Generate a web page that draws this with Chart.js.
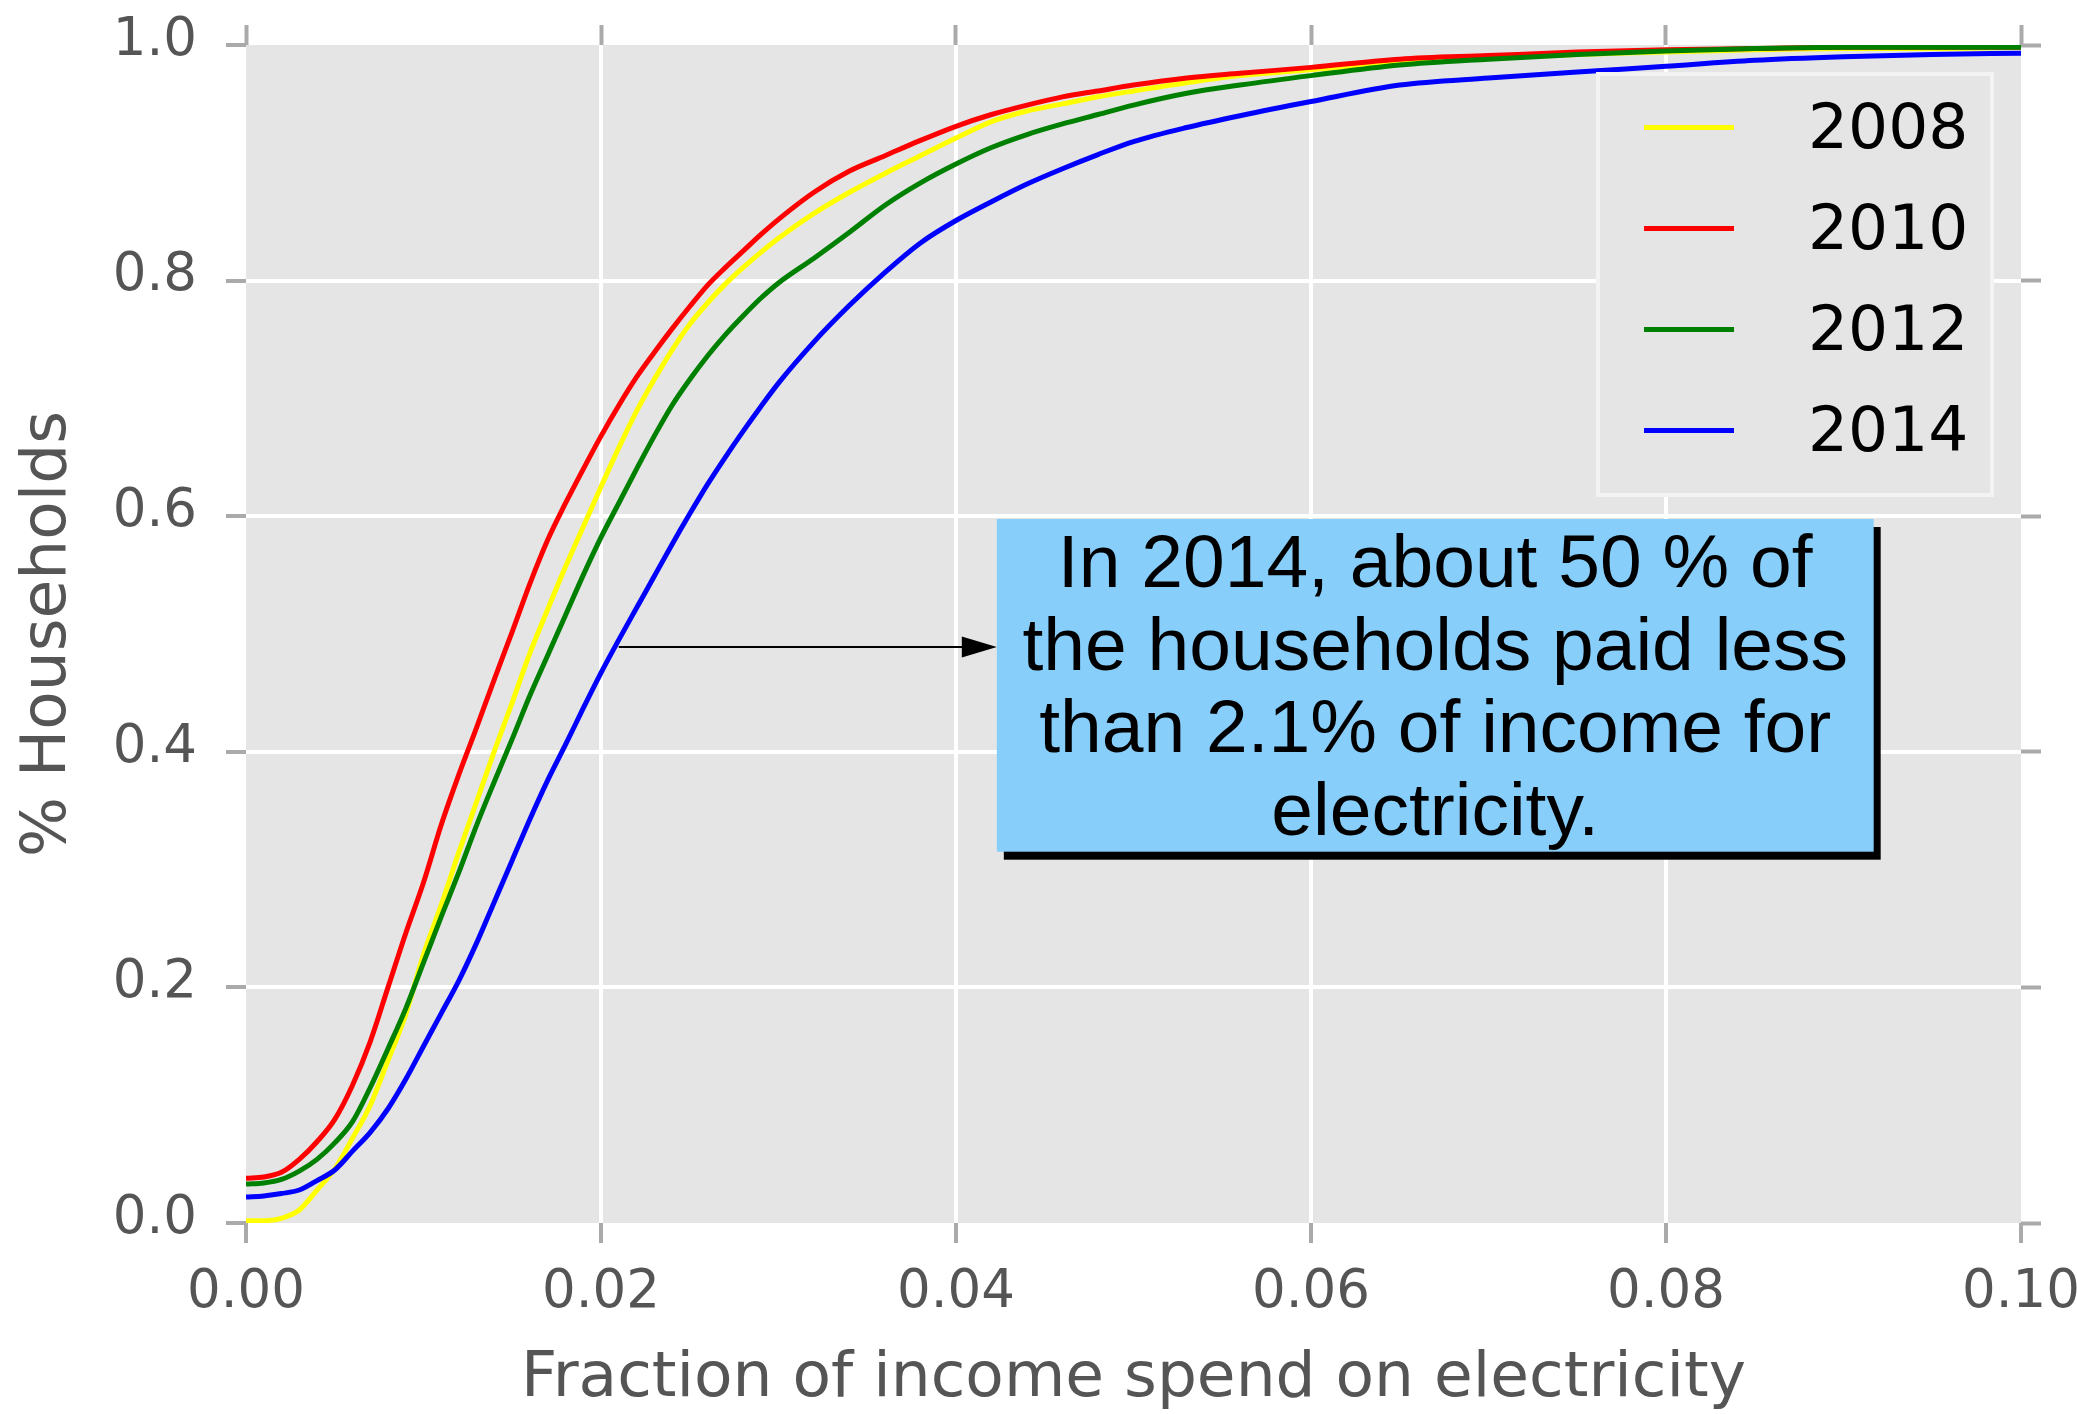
<!DOCTYPE html>
<html>
<head>
<meta charset="utf-8">
<title>Electricity cost share</title>
<script src="https://cdn.jsdelivr.net/npm/chart.js@4.4.0/dist/chart.umd.min.js"></script>
<style>
    html, body { margin: 0; padding: 0; background: #ffffff; }
    #wrap { width: 2077px; height: 1414px; }
</style>
</head>
<body>
<div id="wrap"><canvas id="shareChart" width="2077" height="1414"></canvas></div>
<script>
// fraction of income (x) and cumulative share of households for each survey year
const fractions = [0, 0.001, 0.002, 0.003, 0.004, 0.005, 0.006, 0.007, 0.008, 0.009,
    0.010, 0.011, 0.012, 0.013, 0.014, 0.015, 0.016, 0.017, 0.018, 0.019,
    0.020, 0.021, 0.022, 0.023, 0.024, 0.025, 0.026, 0.027, 0.028, 0.029,
    0.030, 0.032, 0.034, 0.036, 0.038, 0.040, 0.042, 0.044, 0.046, 0.048,
    0.050, 0.053, 0.056, 0.060, 0.065, 0.070, 0.075, 0.080, 0.085, 0.090, 0.095, 0.100];

const share2008 = [0.002, 0.002, 0.004, 0.011, 0.028, 0.046, 0.072, 0.100, 0.138, 0.177,
    0.228, 0.270, 0.315, 0.358, 0.401, 0.442, 0.484, 0.521, 0.557, 0.591,
    0.625, 0.658, 0.689, 0.716, 0.741, 0.763, 0.781, 0.797, 0.811, 0.824,
    0.836, 0.857, 0.875, 0.891, 0.906, 0.921, 0.935, 0.944, 0.950, 0.956,
    0.961, 0.968, 0.974, 0.979, 0.985, 0.989, 0.992, 0.994, 0.996, 0.997, 0.997, 0.998];

const share2010 = [0.038, 0.039, 0.043, 0.054, 0.069, 0.088, 0.117, 0.154, 0.200, 0.246,
    0.289, 0.338, 0.381, 0.421, 0.462, 0.502, 0.543, 0.580, 0.611, 0.640,
    0.668, 0.694, 0.718, 0.739, 0.759, 0.778, 0.796, 0.811, 0.825, 0.839,
    0.852, 0.875, 0.893, 0.906, 0.919, 0.931, 0.941, 0.949, 0.956, 0.961,
    0.966, 0.972, 0.976, 0.981, 0.988, 0.991, 0.994, 0.996, 0.997, 0.998, 0.998, 0.998];

const share2012 = [0.033, 0.034, 0.037, 0.044, 0.054, 0.068, 0.086, 0.115, 0.148, 0.182,
    0.221, 0.260, 0.298, 0.338, 0.375, 0.411, 0.448, 0.482, 0.516, 0.550,
    0.582, 0.611, 0.640, 0.668, 0.694, 0.716, 0.736, 0.754, 0.770, 0.785,
    0.798, 0.819, 0.841, 0.864, 0.883, 0.899, 0.913, 0.924, 0.933, 0.941,
    0.949, 0.959, 0.966, 0.974, 0.983, 0.988, 0.992, 0.995, 0.997, 0.998, 0.998, 0.998];

const share2014 = [0.022, 0.023, 0.025, 0.028, 0.036, 0.045, 0.061, 0.077, 0.097, 0.122,
    0.150, 0.178, 0.206, 0.238, 0.273, 0.308, 0.343, 0.376, 0.406, 0.437,
    0.467, 0.495, 0.522, 0.549, 0.576, 0.602, 0.627, 0.650, 0.672, 0.693,
    0.713, 0.748, 0.779, 0.807, 0.832, 0.851, 0.867, 0.882, 0.895, 0.907,
    0.918, 0.930, 0.940, 0.952, 0.966, 0.972, 0.977, 0.982, 0.987, 0.990, 0.992, 0.993];

const years = ['2008', '2010', '2012', '2014'];
const lineColors = ['#ffff00', '#ff0000', '#008000', '#0000ff'];

const xTicks = [0, 0.02, 0.04, 0.06, 0.08, 0.1];
const xTickLabels = ['0.00', '0.02', '0.04', '0.06', '0.08', '0.10'];
const yTicks = [0, 0.2, 0.4, 0.6, 0.8, 1.0];
const yTickLabels = ['0.0', '0.2', '0.4', '0.6', '0.8', '1.0'];

const noteLines = ['In 2014, about 50 % of', 'the households paid less', 'than 2.1% of income for', 'electricity.'];
const notePoint = { x: 0.021, y: 0.489 };
const noteArea = { x0: 0.0423, x1: 0.0917, y0: 0.3152, y1: 0.5976 };

const TICK_GRAY = '#aaaaaa';
const TEXT_GRAY = '#555555';

function toPoints(values) {
    return fractions.map((f, i) => ({ x: f, y: values[i] }));
}

// white grid, but not on the frame of the plot
function gridColor(count) {
    return ctx => (ctx.index === 0 || ctx.index === count - 1) ? 'rgba(0,0,0,0)' : '#ffffff';
}

const plotBackground = {
    id: 'plotBackground',
    beforeDraw(chart) {
        const { ctx, chartArea: a } = chart;
        ctx.save();
        ctx.fillStyle = '#e5e5e5';
        ctx.fillRect(a.left, a.top, a.right - a.left, a.bottom - a.top);
        ctx.restore();
    }
};

// legend box in the upper right corner of the plot
const boxLegend = {
    id: 'boxLegend',
    afterDraw(chart) {
        const { ctx, chartArea: a } = chart;
        const w = 398, h = 425;
        const left = a.right - 27 - w;
        const top = a.top + 27;
        ctx.save();
        ctx.fillStyle = '#e5e5e5';
        ctx.fillRect(left, top, w, h);
        ctx.strokeStyle = '#f3f3f3';
        ctx.lineWidth = 4;
        ctx.strokeRect(left + 2, top + 2, w - 4, h - 4);
        ctx.font = '63px "DejaVu Sans"';
        ctx.textBaseline = 'middle';
        ctx.textAlign = 'left';
        chart.data.datasets.forEach((ds, i) => {
            const rowY = top + 55.5 + i * 101;
            ctx.strokeStyle = ds.borderColor;
            ctx.lineWidth = 5;
            ctx.beginPath();
            ctx.moveTo(left + 48, rowY);
            ctx.lineTo(left + 138, rowY);
            ctx.stroke();
            ctx.fillStyle = '#000000';
            ctx.fillText(ds.label, left + 212, rowY + 4);
        });
        ctx.restore();
    }
};

// text box with shadow and arrow pointing at the 2014 curve
const noteBox = {
    id: 'noteBox',
    afterDraw(chart) {
        const { ctx } = chart;
        const xs = chart.scales.x, ys = chart.scales.y;
        const left = xs.getPixelForValue(noteArea.x0);
        const right = xs.getPixelForValue(noteArea.x1);
        const top = ys.getPixelForValue(noteArea.y1);
        const bottom = ys.getPixelForValue(noteArea.y0);
        const px = xs.getPixelForValue(notePoint.x);
        const py = ys.getPixelForValue(notePoint.y);

        ctx.save();
        ctx.fillStyle = '#000000';
        ctx.fillRect(left + 7, top + 8, right - left, bottom - top);
        ctx.fillStyle = '#87cefa';
        ctx.fillRect(left, top, right - left, bottom - top);

        // arrow
        ctx.strokeStyle = '#000000';
        ctx.fillStyle = '#000000';
        ctx.lineWidth = 2;
        ctx.beginPath();
        ctx.moveTo(px, py);
        ctx.lineTo(left - 34, py);
        ctx.stroke();
        ctx.beginPath();
        ctx.moveTo(left, py);
        ctx.lineTo(left - 35, py - 10.5);
        ctx.lineTo(left - 35, py + 10.5);
        ctx.closePath();
        ctx.fill();

        ctx.font = '75px "Liberation Sans"';
        ctx.textAlign = 'center';
        ctx.textBaseline = 'alphabetic';
        const cx = (left + right) / 2;
        noteLines.forEach((line, i) => {
            ctx.fillText(line, cx, top + 68 + i * 82.6);
        });
        ctx.restore();
    }
};

function drawChart() {
    const ctx = document.getElementById('shareChart').getContext('2d');
    const series = [share2008, share2010, share2012, share2014];

    new Chart(ctx, {
        type: 'line',
        data: {
            datasets: series.map((values, i) => ({
                label: years[i],
                data: toPoints(values),
                borderColor: lineColors[i],
                backgroundColor: lineColors[i],
                borderWidth: 5,
                pointRadius: 0,
                fill: false,
                cubicInterpolationMode: 'monotone',
                order: series.length - 1 - i
            }))
        },
        options: {
            responsive: false,
            animation: false,
            devicePixelRatio: 1,
            layout: { padding: { top: 25, right: 36, bottom: 0, left: 0 } },
            plugins: {
                legend: { display: false },
                tooltip: { enabled: false }
            },
            scales: {
                x: {
                    type: 'linear',
                    position: 'bottom',
                    min: 0,
                    max: 0.1,
                    afterBuildTicks: scale => { scale.ticks = xTicks.map(v => ({ value: v })); },
                    afterFit: scale => {
                        scale.height = 191;
                        scale.paddingLeft = 0;
                        scale.paddingRight = 0;
                    },
                    border: { display: false },
                    grid: {
                        color: gridColor(xTicks.length),
                        lineWidth: 4,
                        tickColor: TICK_GRAY,
                        tickWidth: 4,
                        tickLength: 20
                    },
                    ticks: {
                        color: TEXT_GRAY,
                        font: { family: 'DejaVu Sans', size: 53 },
                        padding: 18,
                        maxRotation: 0,
                        autoSkip: false,
                        callback: (value, index) => xTickLabels[index]
                    },
                    title: {
                        display: true,
                        text: 'Fraction of income spend on electricity',
                        color: TEXT_GRAY,
                        font: { family: 'DejaVu Sans', size: 63, lineHeight: 1 },
                        padding: { top: 0, bottom: 3 }
                    }
                },
                y: {
                    type: 'linear',
                    position: 'left',
                    min: 0,
                    max: 1,
                    afterBuildTicks: scale => { scale.ticks = yTicks.map(v => ({ value: v })); },
                    afterFit: scale => {
                        scale.width = 246;
                        scale.paddingTop = 0;
                        scale.paddingBottom = 0;
                    },
                    border: { display: false },
                    grid: {
                        color: gridColor(yTicks.length),
                        lineWidth: 4,
                        tickColor: TICK_GRAY,
                        tickWidth: 4,
                        tickLength: 20
                    },
                    ticks: {
                        color: TEXT_GRAY,
                        font: { family: 'DejaVu Sans', size: 53 },
                        padding: 29,
                        labelOffset: -4,
                        callback: (value, index) => yTickLabels[index]
                    },
                    title: {
                        display: true,
                        text: '% Households',
                        color: TEXT_GRAY,
                        font: { family: 'DejaVu Sans', size: 63, lineHeight: 1 },
                        padding: { top: 17, bottom: 0 }
                    }
                },
                xTop: {
                    type: 'linear',
                    position: 'top',
                    min: 0,
                    max: 0.1,
                    afterBuildTicks: scale => { scale.ticks = xTicks.map(v => ({ value: v })); },
                    afterFit: scale => {
                        scale.height = 20;
                        scale.paddingLeft = 0;
                        scale.paddingRight = 0;
                    },
                    border: { display: false },
                    grid: { drawOnChartArea: false, tickColor: TICK_GRAY, tickWidth: 4, tickLength: 20 },
                    ticks: { display: false }
                },
                yRight: {
                    type: 'linear',
                    position: 'right',
                    min: 0,
                    max: 1,
                    afterBuildTicks: scale => { scale.ticks = yTicks.map(v => ({ value: v })); },
                    afterFit: scale => {
                        scale.width = 20;
                        scale.paddingTop = 0;
                        scale.paddingBottom = 0;
                    },
                    border: { display: false },
                    grid: { drawOnChartArea: false, tickColor: TICK_GRAY, tickWidth: 4, tickLength: 20 },
                    ticks: { display: false }
                }
            }
        },
        plugins: [plotBackground, boxLegend, noteBox]
    });
}

document.addEventListener('DOMContentLoaded', drawChart);
</script>
</body>
</html>
